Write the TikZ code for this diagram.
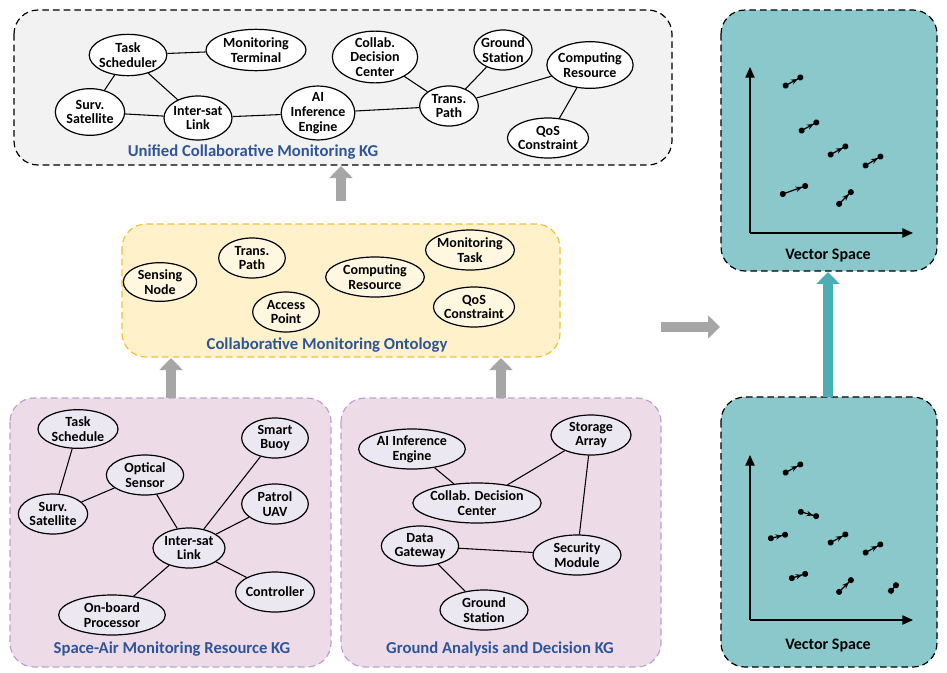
\documentclass[tikz,border=0pt]{standalone}
\usepackage{fontspec}
\setmainfont{Carlito}
\usetikzlibrary{shapes.geometric,arrows.meta}

\definecolor{kgblue}{HTML}{2F5597}
\definecolor{ontofill}{HTML}{FFF1C9}
\definecolor{ontoline}{HTML}{F2C037}
\definecolor{resfill}{HTML}{EDDCE8}
\definecolor{resline}{HTML}{B9A3CC}
\definecolor{resnode}{HTML}{ECE8F1}
\definecolor{vecfill}{HTML}{8AC8CC}
\definecolor{vecarrow}{HTML}{4BAEB5}
\definecolor{bigarrow}{HTML}{A6A6A6}

\tikzset{
  ent/.style={ellipse, draw, line width=0.9pt, inner sep=-1pt, align=center,
              font=\fontsize{10.5}{11}\selectfont\bfseries},
  panel/.style={rounded corners=18pt, line width=0.9pt, dash pattern=on 5pt off 3pt},
  title/.style={font=\fontsize{12.5}{13}\selectfont\bfseries, text=kgblue},
  vtitle/.style={font=\fontsize{12}{13}\selectfont\bfseries},
  up/.style={line width=7.5pt, draw=bigarrow, -{Triangle[length=9pt,width=17pt]}},
  vec/.style={line width=0.9pt, {Circle[length=4.5pt]}-{Stealth[length=5pt,width=4pt]Circle[length=4.5pt]}},
  axis/.style={line width=0.9pt, -{Triangle[length=8pt,width=7pt]}}
}

\begin{document}
\begin{tikzpicture}[x=0.75pt, y=-0.75pt]
  \useasboundingbox (0,0) rectangle (947,672);

  % panels
  \draw[panel, fill=gray!10] (14,10) rectangle (672,165);
  \draw[panel, draw=ontoline, fill=ontofill] (122,224) rectangle (560,357);
  \draw[panel, draw=resline, fill=resfill] (10,398) rectangle (331,667);
  \draw[panel, draw=resline, fill=resfill] (341,398) rectangle (661,667);
  \draw[panel, fill=vecfill] (721,10) rectangle (937,271);
  \draw[panel, fill=vecfill] (721,397) rectangle (937,667);

  % unified KG
  \begin{scope}[every node/.append style={fill=white}]
    \node[ent, minimum width=56pt, minimum height=31pt] (tsch) at (128,55) {Task\\Scheduler};
    \node[ent, minimum width=75pt, minimum height=31pt] (mterm) at (256,50) {Monitoring\\Terminal};
    \node[ent, minimum width=52pt, minimum height=35pt] (ssat) at (90,112) {Surv.\\Satellite};
    \node[ent, minimum width=51pt, minimum height=33pt] (islk) at (198,118) {Inter-sat\\Link};
    \node[ent, minimum width=51pt, minimum height=36pt] (aiie) at (318,113) {AI\\Inference\\Engine};
    \node[ent, minimum width=64pt, minimum height=35pt] (cdc) at (375,57) {Collab.\\Decision\\Center};
    \node[ent, minimum width=44pt, minimum height=30pt] (tpath) at (449,106) {Trans.\\Path};
    \node[ent, minimum width=43pt, minimum height=30pt] (gst) at (503,50) {Ground\\Station};
    \node[ent, minimum width=55pt, minimum height=35pt] (cres) at (590,65) {Computing\\Resource};
    \node[ent, minimum width=55pt, minimum height=30pt] (qos) at (548,138) {QoS\\Constraint};
  \end{scope}
  \draw[line width=0.8pt] (tsch) -- (mterm) (tsch) -- (ssat) (tsch) -- (islk) (ssat) -- (islk)
    (islk) -- (aiie) (aiie) -- (tpath) (cdc) -- (tpath) (tpath) -- (gst)
    (tpath) -- (cres) (cres) -- (qos);
  \node[title] (tunified) at (253,152) {Unified Collaborative Monitoring KG};

  % ontology
  \begin{scope}[every node/.append style={fill=ontofill!60!white}]
    \node[ent, minimum width=55pt, minimum height=29pt] (osens) at (160,282) {Sensing\\Node};
    \node[ent, minimum width=50pt, minimum height=30pt] (opath) at (252,258) {Trans.\\Path};
    \node[ent, minimum width=74pt, minimum height=30pt] (ocomp) at (375,277) {Computing\\Resource};
    \node[ent, minimum width=59pt, minimum height=30pt] (otask) at (470,250) {Monitoring\\Task};
    \node[ent, minimum width=50pt, minimum height=30pt] (oacc) at (286,312) {Access\\Point};
    \node[ent, minimum width=55pt, minimum height=30pt] (oqos) at (474,307) {QoS\\Constraint};
  \end{scope}
  \node[title] (tonto) at (327,345) {Collaborative Monitoring Ontology};

  % space-air KG
  \begin{scope}[every node/.append style={fill=resnode}]
    \node[ent, minimum width=60pt, minimum height=29pt] (rtask) at (78,429) {Task\\Schedule};
    \node[ent, minimum width=58pt, minimum height=30pt] (ropt) at (145,475) {Optical\\Sensor};
    \node[ent, minimum width=50pt, minimum height=30pt] (rbuoy) at (275,438) {Smart\\Buoy};
    \node[ent, minimum width=52pt, minimum height=30pt] (rsat) at (53,514) {Surv.\\Satellite};
    \node[ent, minimum width=50pt, minimum height=30pt] (ruav) at (275,504) {Patrol\\UAV};
    \node[ent, minimum width=54pt, minimum height=30pt] (rlink) at (189,548) {Inter-sat\\Link};
    \node[ent, minimum width=54pt, minimum height=30pt] (rctl) at (275,592) {Controller};
    \node[ent, minimum width=80pt, minimum height=30pt] (rproc) at (112,615) {On-board\\Processor};
  \end{scope}
  \draw[line width=0.8pt] (rtask) -- (rsat) (rsat) -- (ropt) (ropt) -- (rlink) (rbuoy) -- (rlink)
    (ruav) -- (rlink) (rlink) -- (rproc) (rlink) -- (rctl);
  \node[title] (tres) at (172,649) {Space-Air Monitoring Resource KG};

  % ground KG
  \begin{scope}[every node/.append style={fill=resnode}]
    \node[ent, minimum width=80pt, minimum height=30pt] (gai) at (412,449) {AI Inference\\Engine};
    \node[ent, minimum width=60pt, minimum height=30pt] (gsto) at (591,435) {Storage\\Array};
    \node[ent, minimum width=88pt, minimum height=30pt] (gcdc) at (477,503) {Collab. Decision\\Center};
    \node[ent, minimum width=58pt, minimum height=30pt] (gdata) at (420,546) {Data\\Gateway};
    \node[ent, minimum width=66pt, minimum height=30pt] (gsec) at (577,555) {Security\\Module};
    \node[ent, minimum width=66pt, minimum height=30pt] (ggst) at (484,610) {Ground\\Station};
  \end{scope}
  \draw[line width=0.8pt] (gai) -- (gcdc) (gcdc) -- (gsto) (gsto) -- (gsec)
    (gdata) -- (gsec) (gdata) -- (ggst);
  \node[title] (tgnd) at (500,649) {Ground Analysis and Decision KG};

  % vector spaces
  \coordinate (o1) at (750,233);
  \draw[axis] (o1) -- (750,67);
  \draw[axis] (o1) -- (913,233);
  \foreach \a/\b/\c/\d in {783/87/803/76, 799/132/819/121, 828/156/848/145,
                           863/167/883/155, 780/195/808/185, 837/206/853/190}
    \draw[vec] (\a,\b) -- (\c,\d);
  \node[vtitle] (tvec1) at (828,256) {Vector Space};

  \coordinate (o2) at (750,620);
  \draw[axis] (o2) -- (750,455);
  \draw[axis] (o2) -- (913,620);
  \foreach \a/\b/\c/\d in {783/474/803/463, 798/511/819/517, 768/539/788/534, 828/544/848/533,
                           863/554/883/543, 789/579/808/573, 837/594/853/578, 889/593/898/583}
    \draw[vec] (\a,\b) -- (\c,\d);
  \node[vtitle] (tvec2) at (828,646) {Vector Space};

  % flow arrows
  \draw[up] (341,201) -- (341,166);
  \draw[up] (171,398) -- (171,358);
  \draw[up] (501,398) -- (501,358);
  \draw[up] (661,327) -- (720,327);
  \draw[up, draw=vecarrow] (828,397) -- (828,272);
\end{tikzpicture}
\end{document}
